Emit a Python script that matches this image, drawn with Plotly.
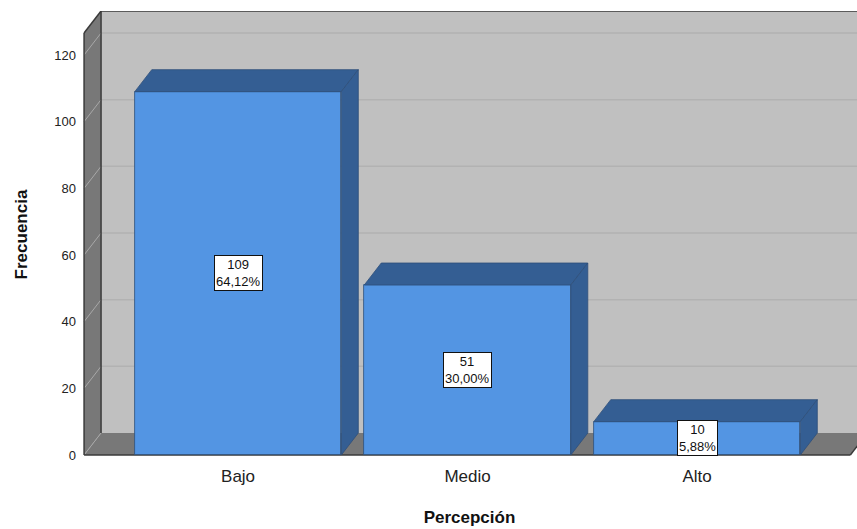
import plotly.graph_objects as go

# Data
categorias = ["Bajo", "Medio", "Alto"]
frecuencias = [109, 51, 10]
porcentajes = ["64,12%", "30,00%", "5,88%"]
y_ticks = [0, 20, 40, 60, 80, 100, 120]

# Pseudo-3D geometry (in axis units)
BAR_W = 0.9
DX = 0.074          # depth offset along x
DY = 6.6            # depth offset along y
X_LEFT = -0.671     # front-left corner of the box
X_MIN, X_MAX = -0.68, 2.697
Y_MIN, Y_MAX = -0.9, 133.2
X_FLOOR_RIGHT = 2.668

WALL = "#c0c0c0"
SIDE = "#787878"
EDGE = "#3a3a3a"
GRID_BACK = "#b2b2b2"
GRID_SIDE = "#a8a8a8"
FRONT = "#5395e3"
DARK = "#345e93"
OUTLINE = "#2f4f7a"

shapes = []
# back wall
shapes.append(dict(type="rect", xref="x", yref="y", layer="below",
                   x0=X_LEFT + DX, x1=X_MAX + 0.2, y0=DY, y1=Y_MAX,
                   fillcolor=WALL, line=dict(width=0)))
# left side wall
shapes.append(dict(type="path", xref="x", yref="y", layer="below",
                   path=f"M {X_LEFT},0 L {X_LEFT},{Y_MAX - DY} L {X_LEFT + DX},{Y_MAX} "
                        f"L {X_LEFT + DX},{DY} Z",
                   fillcolor=SIDE, line=dict(width=0)))
# floor
shapes.append(dict(type="path", xref="x", yref="y", layer="below",
                   path=f"M {X_LEFT},0 L {X_LEFT + DX},{DY} L {X_FLOOR_RIGHT + DX},{DY} "
                        f"L {X_FLOOR_RIGHT},0 Z",
                   fillcolor=SIDE, line=dict(width=0)))
# grid lines on back wall and side wall
for v in y_ticks:
    if v > 0:
        shapes.append(dict(type="line", xref="x", yref="y", layer="below",
                           x0=X_LEFT + DX, x1=X_MAX + 0.2, y0=v + DY, y1=v + DY,
                           line=dict(color=GRID_BACK, width=1.5)))
    shapes.append(dict(type="line", xref="x", yref="y", layer="below",
                       x0=X_LEFT, x1=X_LEFT + DX, y0=v, y1=v + DY,
                       line=dict(color=GRID_SIDE, width=1)))
# box edges
edges = [
    (X_LEFT, 0, X_LEFT, Y_MAX - DY),
    (X_LEFT, Y_MAX - DY, X_LEFT + DX, Y_MAX),
    (X_LEFT + DX, Y_MAX, X_MAX + 0.2, Y_MAX),
    (X_LEFT + DX, DY, X_LEFT + DX, Y_MAX),
    (X_LEFT, 0, X_FLOOR_RIGHT, 0),
    (X_FLOOR_RIGHT, 0, X_FLOOR_RIGHT + DX, DY),
]
for x0, y0, x1, y1 in edges:
    shapes.append(dict(type="line", xref="x", yref="y", layer="below",
                       x0=x0, y0=y0, x1=x1, y1=y1,
                       line=dict(color=EDGE, width=1.5)))

fig = go.Figure()

xs = list(range(len(categorias)))

# front faces of the bars
fig.add_trace(go.Bar(x=xs, y=frecuencias, width=BAR_W,
                     marker=dict(color=FRONT, line=dict(color=OUTLINE, width=0.8)),
                     hoverinfo="skip", showlegend=False))

# top and side faces of the bars
for i, v in enumerate(frecuencias):
    l, r = i - BAR_W / 2, i + BAR_W / 2
    fig.add_trace(go.Scatter(
        x=[l, l + DX, r + DX, r, l], y=[v, v + DY, v + DY, v, v],
        fill="toself", fillcolor=DARK, mode="lines",
        line=dict(color=OUTLINE, width=0.8), hoverinfo="skip", showlegend=False))
    fig.add_trace(go.Scatter(
        x=[r, r, r + DX, r + DX, r], y=[0, v, v + DY, DY, 0],
        fill="toself", fillcolor=DARK, mode="lines",
        line=dict(color=OUTLINE, width=0.8), hoverinfo="skip", showlegend=False))

# value labels
annotations = []
for i, (v, p) in enumerate(zip(frecuencias, porcentajes)):
    annotations.append(dict(x=i, y=v / 2, xref="x", yref="y",
                            text=f"{v}<br>{p}", showarrow=False,
                            font=dict(family="Liberation Sans, Arial", size=13, color="#111"),
                            bgcolor="white", bordercolor="#111", borderwidth=1, borderpad=1))

fig.update_layout(
    width=857, height=529,
    margin=dict(l=82, r=0, t=11, b=71),
    paper_bgcolor="white", plot_bgcolor="white",
    shapes=shapes, annotations=annotations,
    bargap=0,
    font=dict(family="Liberation Sans, Arial", color="#222"),
    xaxis=dict(range=[X_MIN, X_MAX], tickvals=xs, ticktext=categorias,
               showgrid=False, zeroline=False, showline=False, ticks="",
               tickfont=dict(size=17, color="#222"), ticklabelstandoff=6,
               title=dict(text="<b>Percepción</b>", font=dict(size=17, color="#111"),
                          standoff=26)),
    yaxis=dict(range=[Y_MIN, Y_MAX], tickvals=y_ticks,
               showgrid=False, zeroline=False, showline=False, ticks="",
               tickfont=dict(size=13, color="#222"), ticklabelstandoff=5,
               title=dict(text="<b>Frecuencia</b>", font=dict(size=17, color="#111"),
                          standoff=22)),
)

fig.write_html("out.html")
